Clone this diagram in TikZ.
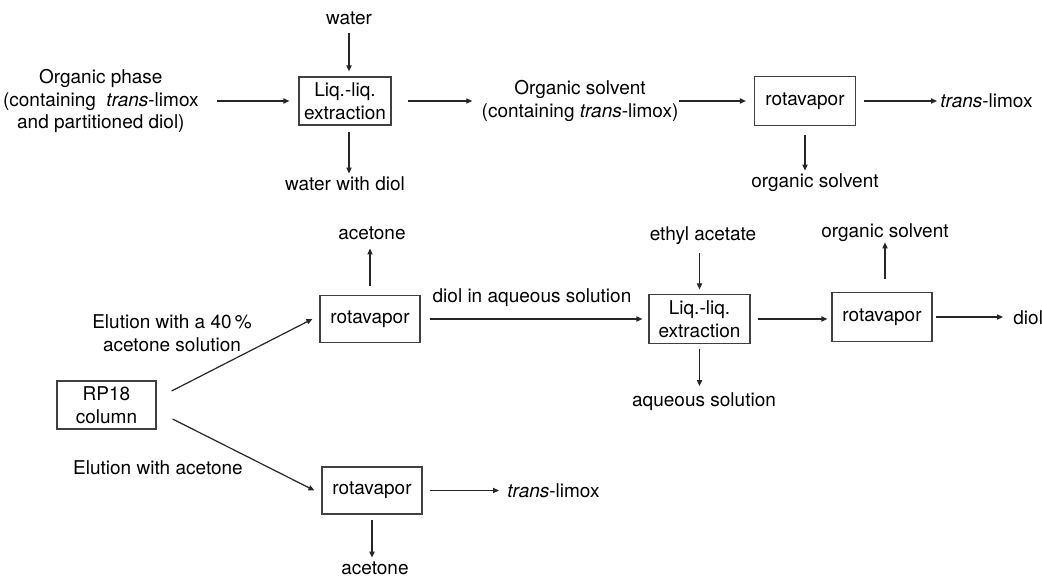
\documentclass[tikz,border=0pt]{standalone}
\usepackage{fontspec}
\setmainfont{TeX Gyre Heros}
\usetikzlibrary{arrows.meta,calc}
\begin{document}
\begin{tikzpicture}[x=0.5pt,y=-0.5pt,
  ff/.style={font=\fontsize{9.5}{11.3}\selectfont},
  lab/.style={ff, inner sep=0pt, align=center},
  box/.style={ff, draw=black!75, line width=0.6pt, inner sep=0pt, align=center},
  arr/.style={draw=black!85, line width=0.6pt, -{Triangle[length=3pt,width=2.6pt]}}]
\useasboundingbox (0,0) rectangle (1042,576);

% ---------- top row ----------
\node[lab] (water) at (349,18) {water};
\node[box, minimum width=46pt, minimum height=24pt] (lle1) at (345,101) {Liq.-liq.\\extraction};
\node[lab, anchor=east] (orgph) at (199,101) {Organic phase\\(containing\hspace{0.55em}\textit{trans}-limox\\and partitioned diol)};
\node[lab] (orgsolv) at (580,101) {Organic solvent\\(containing \textit{trans}-limox)};
\node[box, minimum width=50.5pt, minimum height=24.5pt] (rot1) at (805,101) {rotavapor};
\node[lab, anchor=west] (tl1) at (940,101) {\textit{trans}-limox};
\node[lab] (os1) at (815,183) {organic solvent};
\node[lab] (wd) at (345,184) {water with diol};

\draw[arr, shorten <=4pt, shorten >=2.5pt] (water.south) -- (water.south |- lle1.north);
\draw[arr, shorten <=3pt, shorten >=1.5pt] (water.south |- lle1.south) -- (water.south |- wd.north);
\draw[arr, shorten <=9pt, shorten >=4.5pt] (orgph.east) -- (orgph.east -| lle1.west);
\draw[arr, shorten <=8pt, shorten >=4.5pt] (lle1.east) -- (lle1.east -| orgsolv.west);
\draw[arr, shorten >=4pt] (orgsolv.east) -- (orgsolv.east -| rot1.west);
\draw[arr, shorten <=4pt, shorten >=1.5pt] (rot1.east) -- (rot1.east -| tl1.west);
\draw[arr, shorten <=4.25pt, shorten >=1.5pt] (rot1.south) -- (rot1.south |- os1.north);

% ---------- bottom part ----------
\node[lab] (acT) at (372,233) {acetone};
\node[box, minimum width=50pt, minimum height=23.5pt] (rotA) at (370,319) {rotavapor};
\node[lab] (el40) at (172,333) {Elution with a 40\,\%\\acetone solution};
\node[box, minimum width=49.5pt, minimum height=24pt] (rp) at (106.5,405) {RP18\\column};
\node[lab] (elac) at (158,468) {Elution with acetone};
\node[box, minimum width=50pt, minimum height=23.5pt] (rotB) at (372,490.5) {rotavapor};
\node[lab] (acB) at (375,568) {acetone};
\node[lab, anchor=west] (tlB) at (507,491) {\textit{trans}-limox};
\node[lab] (dq) at (532,298) {diol in aqueous solution};
\node[lab] (ea) at (703,236) {ethyl acetate};
\node[box, minimum width=50.5pt, minimum height=24.5pt] (lle2) at (699.5,319) {Liq.-liq.\\extraction};
\node[lab] (aq) at (704,402) {aqueous solution};
\node[lab] (os2) at (885,233) {organic solvent};
\node[box, minimum width=50pt, minimum height=24.5pt] (rotC) at (882,317) {rotavapor};
\node[lab, anchor=west] (diol) at (1013,318) {diol};

\draw[arr, shorten <=4.25pt, shorten >=4.3pt] (rotA.north) -- (rotA.north |- acT.south);
\draw[arr] ($(rp.east)+(15,-14)$) -- ($(rotA.west)+(-7,0)$);
\draw[arr] ($(rp.east)+(16,14)$) -- ($(rotB.west)+(-7,0)$);
\draw[arr, shorten <=2.5pt, shorten >=1.75pt] (rotB.south) -- (rotB.south |- acB.north);
\draw[arr, shorten <=3.5pt, shorten >=4pt] (rotB.east) -- (rotB.east -| tlB.west);
\draw[arr, shorten <=4.5pt, shorten >=3pt] (rotA.east) -- (rotA.east -| lle2.west);
\draw[arr, shorten <=3.75pt, shorten >=2.25pt] (lle2.north |- ea.south) -- (lle2.north);
\draw[arr, shorten <=2.25pt, shorten >=3.25pt] (lle2.south) -- (lle2.south |- aq.north);
\draw[arr, shorten <=3.5pt, shorten >=2pt] (lle2.east) -- (lle2.east -| rotC.west);
\draw[arr, shorten <=6.25pt] (os2.south |- rotC.north) -- (os2.south);
\draw[arr, shorten <=1.5pt, shorten >=5pt] (rotC.east) -- (rotC.east -| diol.west);
\end{tikzpicture}
\end{document}
